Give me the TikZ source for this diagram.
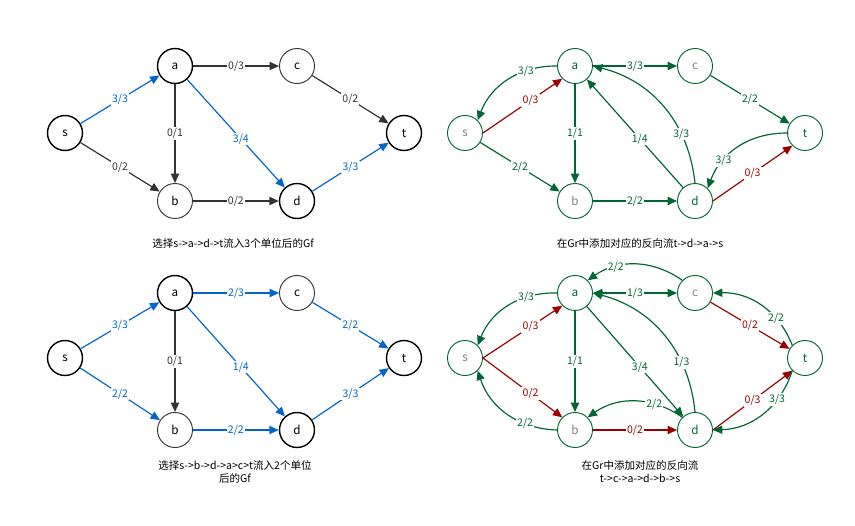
\documentclass[tikz,border=0pt]{standalone}
\usepackage{fontspec}
\setmainfont{Noto Sans CJK SC}
\usetikzlibrary{arrows.meta}
\definecolor{fblue}{RGB}{0,102,204}
\definecolor{fgray}{RGB}{51,51,51}
\definecolor{fgreen}{RGB}{0,102,51}
\definecolor{fred}{RGB}{153,0,0}
\tikzset{
  vtx/.style={circle, draw=black, very thick, minimum size=1.05cm, inner sep=0pt, font=\normalsize},
  vlt/.style={vtx, draw=fgray, thick},
  gvtx/.style={vtx, draw=fgreen, thick, text=fgreen},
  gvlt/.style={gvtx, text=gray},
  arc/.style={semithick, line width=1pt, -{Triangle[length=8pt,width=7pt]}},
  lbl/.style={fill=white, inner sep=1pt, font=\small},
  capt/.style={font=\small, align=center}
}
\begin{document}
\begin{tikzpicture}[x=0.03cm, y=-0.03cm]
  \useasboundingbox (0,0) rectangle (855,526);
  % top left
  \node[vtx] (s1) at (65,133) {s};
  \node[vtx] (a1) at (175,66) {a};
  \node[vlt] (c1) at (297,66) {c};
  \node[vtx] (t1) at (404,133) {t};
  \node[vlt] (b1) at (175,201) {b};
  \node[vtx] (d1) at (297,201) {d};
  \draw[arc, fblue] (s1) -- (a1) node[lbl, midway, text=fblue]{3/3};
  \draw[arc, fgray] (s1) -- (b1) node[lbl, midway]{0/2};
  \draw[arc, fgray] (a1) -- (b1) node[lbl, midway]{0/1};
  \draw[arc, fgray] (a1) -- (c1) node[lbl, midway]{0/3};
  \draw[arc, fblue] (a1) -- (d1) node[lbl, pos=0.55, text=fblue]{3/4};
  \draw[arc, fgray] (c1) -- (t1) node[lbl, midway]{0/2};
  \draw[arc, fgray] (b1) -- (d1) node[lbl, midway]{0/2};
  \draw[arc, fblue] (d1) -- (t1) node[lbl, midway, text=fblue]{3/3};
  \node[capt] (cap1) at (233,243) {选择s->a->d->t流入3个单位后的Gf};
  % top right
  \node[gvlt] (s2) at (465,133) {s};
  \node[gvtx] (a2) at (575,66) {a};
  \node[gvlt] (c2) at (695,66) {c};
  \node[gvtx] (t2) at (805,133) {t};
  \node[gvlt] (b2) at (575,201) {b};
  \node[gvtx] (d2) at (695,201) {d};
  \draw[arc, fgreen] (a2.west) to[bend right=35] node[lbl, pos=0.3, text=fgreen]{3/3} (s2.north east);
  \draw[arc, fred] (s2.east) -- (a2.south west) node[lbl, pos=0.6, text=fred]{0/3};
  \draw[arc, fgreen] (s2) -- (b2) node[lbl, midway, text=fgreen]{2/2};
  \draw[arc, fgreen] (a2) -- (b2) node[lbl, midway, text=fgreen]{1/1};
  \draw[arc, fgreen] (a2) -- (c2) node[lbl, midway, text=fgreen]{3/3};
  \draw[arc, fgreen] (d2) -- (a2) node[lbl, pos=0.45, text=fgreen]{1/4};
  \draw[arc, fgreen] (d2.north) to[bend right=35] node[lbl, pos=0.3, text=fgreen]{3/3} (a2.east);
  \draw[arc, fgreen] (c2) -- (t2) node[lbl, midway, text=fgreen]{2/2};
  \draw[arc, fgreen] (b2) -- (d2) node[lbl, midway, text=fgreen]{2/2};
  \draw[arc, fred] (d2.east) -- (t2.south west) node[lbl, midway, text=fred]{0/3};
  \draw[arc, fgreen] (t2.west) to[bend right=35] node[lbl, pos=0.7, text=fgreen]{3/3} (d2.north east);
  \node[capt] (cap2) at (640,243) {在Gr中添加对应的反向流t->d->a->s};
  % bottom left
  \node[vtx] (s3) at (65,358) {s};
  \node[vtx] (a3) at (175,293) {a};
  \node[vlt] (c3) at (297,293) {c};
  \node[vtx] (t3) at (404,358) {t};
  \node[vlt] (b3) at (175,430) {b};
  \node[vtx] (d3) at (297,430) {d};
  \draw[arc, fblue] (s3) -- (a3) node[lbl, midway, text=fblue]{3/3};
  \draw[arc, fblue] (s3) -- (b3) node[lbl, midway, text=fblue]{2/2};
  \draw[arc, fgray] (a3) -- (b3) node[lbl, midway]{0/1};
  \draw[arc, fblue] (a3) -- (c3) node[lbl, midway, text=fblue]{2/3};
  \draw[arc, fblue] (a3) -- (d3) node[lbl, pos=0.55, text=fblue]{1/4};
  \draw[arc, fblue] (c3) -- (t3) node[lbl, midway, text=fblue]{2/2};
  \draw[arc, fblue] (b3) -- (d3) node[lbl, midway, text=fblue]{2/2};
  \draw[arc, fblue] (d3) -- (t3) node[lbl, midway, text=fblue]{3/3};
  \node[capt] (cap3) at (235,472) {选择s->b->d->a>c>t流入2个单位\\后的Gf};
  % bottom right
  \node[gvlt] (s4) at (465,358) {s};
  \node[gvtx] (a4) at (575,293) {a};
  \node[gvlt] (c4) at (695,293) {c};
  \node[gvtx] (t4) at (805,358) {t};
  \node[gvlt] (b4) at (575,430) {b};
  \node[gvtx] (d4) at (695,430) {d};
  \draw[arc, fgreen] (a4.west) to[bend right=35] node[lbl, pos=0.3, text=fgreen]{3/3} (s4.north east);
  \draw[arc, fred] (s4.east) -- (a4.south west) node[lbl, pos=0.6, text=fred]{0/3};
  \draw[arc, fgreen] (b4.west) to[bend left=35] node[lbl, pos=0.3, text=fgreen]{2/2} (s4.south east);
  \draw[arc, fred] (s4.east) -- (b4.north west) node[lbl, pos=0.6, text=fred]{0/2};
  \draw[arc, fgreen] (a4) -- (b4) node[lbl, midway, text=fgreen]{1/1};
  \draw[arc, fgreen] (c4.north west) to[bend right=35] node[lbl, pos=0.7, text=fgreen]{2/2} (a4.north east);
  \draw[arc, fgreen, {Triangle[length=8pt,width=7pt]}-{Triangle[length=8pt,width=7pt]}] (a4) -- (c4) node[lbl, midway, text=fgreen]{1/3};
  \draw[arc, fgreen] (a4) -- (d4) node[lbl, pos=0.55, text=fgreen]{3/4};
  \draw[arc, fgreen] (d4.north) to[bend right=35] node[lbl, pos=0.3, text=fgreen]{1/3} (a4.east);
  \draw[arc, fgreen] (d4.north west) to[bend right=35] node[lbl, pos=0.3, text=fgreen]{2/2} (b4.north east);
  \draw[arc, fred] (b4) -- (d4) node[lbl, midway, text=fred]{0/2};
  \draw[arc, fred] (c4) -- (t4) node[lbl, midway, text=fred]{0/2};
  \draw[arc, fgreen] (t4.north west) to[bend right=35] node[lbl, pos=0.3, text=fgreen]{2/2} (c4.east);
  \draw[arc, fred] (d4.east) -- (t4.south west) node[lbl, midway, text=fred]{0/3};
  \draw[arc, fgreen] (t4.south west) to[bend left=35] node[lbl, pos=0.3, text=fgreen]{3/3} (d4.east);
  \node[capt] (cap4) at (640,472) {在Gr中添加对应的反向流\\t->c->a->d->b->s};
\end{tikzpicture}
\end{document}
